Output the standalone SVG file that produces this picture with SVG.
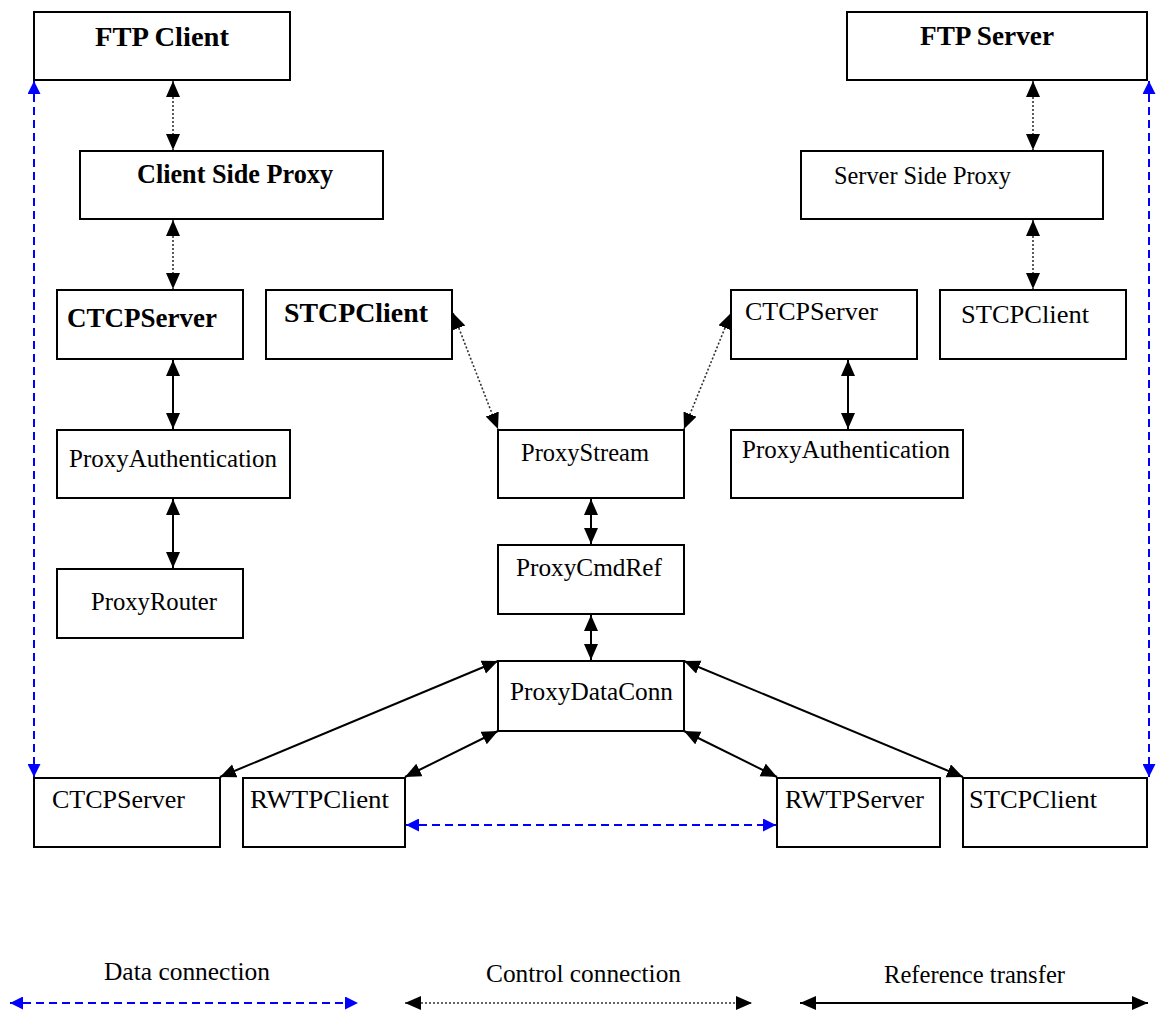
<svg xmlns="http://www.w3.org/2000/svg" width="1160" height="1010" viewBox="0 0 1160 1010">
<defs>
<style>
.box{fill:#fff;stroke:#000;stroke-width:2}
.t{font-family:"Liberation Serif","Times New Roman",serif;font-size:26px;fill:#000}
.b{font-weight:bold;font-size:27px}
.dot{fill:none;stroke:#333;stroke-width:1.6;stroke-dasharray:2 2;marker-start:url(#ak);marker-end:url(#ak)}
.sol{fill:none;stroke:#000;stroke-width:2;marker-start:url(#ak);marker-end:url(#ak)}
.blu{fill:none;stroke:#0000ff;stroke-width:2;stroke-dasharray:8 5;marker-start:url(#ab);marker-end:url(#ab)}
</style>
<marker id="ak" markerUnits="userSpaceOnUse" markerWidth="17" markerHeight="15" refX="16" refY="7" orient="auto-start-reverse" viewBox="0 0 17 15"><path d="M0,0 L16,7 L0,14 z" fill="#000"/></marker>
<marker id="ab" markerUnits="userSpaceOnUse" markerWidth="14" markerHeight="13" refX="13" refY="6.5" orient="auto-start-reverse" viewBox="0 0 14 13"><path d="M0,0 L13,6.5 L0,13 z" fill="#0000ff"/></marker>
</defs>
<rect width="1160" height="1010" fill="#fff"/>
<g id="connectors">
<line class="dot" x1="173" y1="81" x2="173" y2="150"/>
<line class="dot" x1="173" y1="220" x2="173" y2="289"/>
<line class="sol" x1="173" y1="360" x2="173" y2="429"/>
<line class="sol" x1="173" y1="499" x2="173" y2="568"/>
<line class="dot" x1="1033" y1="81" x2="1033" y2="150"/>
<line class="dot" x1="1033" y1="220" x2="1033" y2="289"/>
<line class="sol" x1="848" y1="360" x2="848" y2="429"/>
<line class="dot" x1="453" y1="313" x2="498" y2="429"/>
<line class="dot" x1="731" y1="313" x2="684" y2="429"/>
<line class="sol" x1="591" y1="499" x2="591" y2="544"/>
<line class="sol" x1="591" y1="615" x2="591" y2="660"/>
<line class="sol" x1="498" y1="661" x2="220" y2="777"/>
<line class="sol" x1="498" y1="731" x2="405" y2="777"/>
<line class="sol" x1="684" y1="731" x2="777" y2="777"/>
<line class="sol" x1="684" y1="661" x2="963" y2="777"/>
<line class="blu" x1="34" y1="81" x2="34" y2="777"/>
<line class="blu" x1="1149" y1="81" x2="1149" y2="777"/>
<line class="blu" x1="406" y1="825" x2="776" y2="825"/>
</g>
<g id="ftp-client"><rect class="box" x="34" y="12" width="256" height="68"/><text class="t b" x="95" y="46" textLength="134" lengthAdjust="spacingAndGlyphs">FTP Client</text></g>
<g id="client-side-proxy"><rect class="box" x="80" y="151" width="303" height="68"/><text class="t b" x="137" y="183" textLength="196" lengthAdjust="spacingAndGlyphs">Client Side Proxy</text></g>
<g id="ctcpserver-1"><rect class="box" x="57" y="290" width="186" height="69"/><text class="t b" x="67" y="327" textLength="150" lengthAdjust="spacingAndGlyphs">CTCPServer</text></g>
<g id="stcpclient-1"><rect class="box" x="266" y="290" width="186" height="69"/><text class="t b" x="284" y="322" textLength="144" lengthAdjust="spacingAndGlyphs">STCPClient</text></g>
<g id="proxyauth-1"><rect class="box" x="57" y="430" width="233" height="68"/><text class="t" x="69" y="467" textLength="208" lengthAdjust="spacingAndGlyphs">ProxyAuthentication</text></g>
<g id="proxyrouter"><rect class="box" x="57" y="569" width="186" height="69"/><text class="t" x="91" y="610" textLength="126" lengthAdjust="spacingAndGlyphs">ProxyRouter</text></g>
<g id="ftp-server"><rect class="box" x="847" y="12" width="300" height="68"/><text class="t b" x="920" y="45" textLength="134" lengthAdjust="spacingAndGlyphs">FTP Server</text></g>
<g id="server-side-proxy"><rect class="box" x="801" y="151" width="302" height="68"/><text class="t" x="834" y="184" textLength="177" lengthAdjust="spacingAndGlyphs">Server Side Proxy</text></g>
<g id="ctcpserver-2"><rect class="box" x="731" y="290" width="186" height="69"/><text class="t" x="745" y="320" textLength="133" lengthAdjust="spacingAndGlyphs">CTCPServer</text></g>
<g id="stcpclient-2"><rect class="box" x="940" y="290" width="186" height="69"/><text class="t" x="961" y="323" textLength="128" lengthAdjust="spacingAndGlyphs">STCPClient</text></g>
<g id="proxyauth-2"><rect class="box" x="731" y="430" width="232" height="68"/><text class="t" x="742" y="458" textLength="208" lengthAdjust="spacingAndGlyphs">ProxyAuthentication</text></g>
<g id="proxystream"><rect class="box" x="498" y="430" width="186" height="68"/><text class="t" x="521" y="461" textLength="128" lengthAdjust="spacingAndGlyphs">ProxyStream</text></g>
<g id="proxycmdref"><rect class="box" x="498" y="545" width="186" height="69"/><text class="t" x="516" y="576" textLength="146" lengthAdjust="spacingAndGlyphs">ProxyCmdRef</text></g>
<g id="proxydataconn"><rect class="box" x="498" y="661" width="186" height="70"/><text class="t" x="510" y="700" textLength="163" lengthAdjust="spacingAndGlyphs">ProxyDataConn</text></g>
<g id="ctcpserver-3"><rect class="box" x="34" y="778" width="186" height="69"/><text class="t" x="52" y="808" textLength="133" lengthAdjust="spacingAndGlyphs">CTCPServer</text></g>
<g id="rwtpclient"><rect class="box" x="243" y="778" width="162" height="69"/><text class="t" x="250" y="808" textLength="139" lengthAdjust="spacingAndGlyphs">RWTPClient</text></g>
<g id="rwtpserver"><rect class="box" x="777" y="778" width="163" height="69"/><text class="t" x="785" y="808" textLength="139" lengthAdjust="spacingAndGlyphs">RWTPServer</text></g>
<g id="stcpclient-3"><rect class="box" x="963" y="778" width="184" height="69"/><text class="t" x="969" y="808" textLength="128" lengthAdjust="spacingAndGlyphs">STCPClient</text></g>
<g id="legend">
<text class="t" x="104" y="980" textLength="166" lengthAdjust="spacingAndGlyphs">Data connection</text>
<text class="t" x="486" y="982" textLength="195" lengthAdjust="spacingAndGlyphs">Control connection</text>
<text class="t" x="884" y="983" textLength="181" lengthAdjust="spacingAndGlyphs">Reference transfer</text>
<line class="blu" x1="10" y1="1003" x2="358" y2="1003"/>
<line class="dot" x1="405" y1="1003" x2="752" y2="1003"/>
<line class="sol" x1="800" y1="1003" x2="1148" y2="1003"/>
</g>
</svg>
